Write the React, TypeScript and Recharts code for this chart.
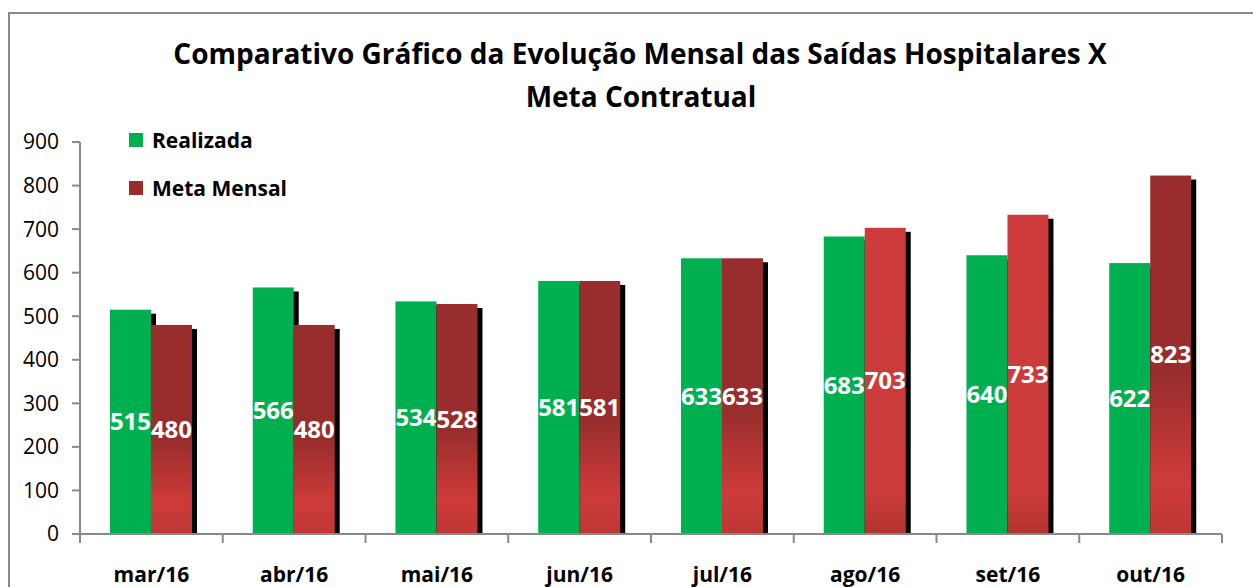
import { BarChart, Bar, XAxis, YAxis, Legend, LabelList, Cell } from "recharts";

const months = ["mar/16", "abr/16", "mai/16", "jun/16", "jul/16", "ago/16", "set/16", "out/16"];
const realizada = [515, 566, 534, 581, 633, 683, 640, 622];
const metaMensal = [480, 480, 528, 581, 633, 703, 733, 823];
const yTicks = [0, 100, 200, 300, 400, 500, 600, 700, 800, 900];

// the Excel gradient came out differently on ago and set
const metaFill = ["metaDark", "metaDark", "metaDark", "metaDark", "metaDark", "metaBright", "metaBright", "metaDark"];

const chartData = months.map((m, i) => ({ month: m, realizada: realizada[i], meta: metaMensal[i] }));

const W = 1253;
const H = 587;
const PLOT_LEFT = 80;
const PLOT_RIGHT = 1222;
const BAND = (PLOT_RIGHT - PLOT_LEFT) / months.length;
const GRAY = "#898989";
const GREEN = "#00B050";
const FONT = "'Open Sans', sans-serif";

// bar with the black drop shadow Excel puts behind it
const ShadowBar = (props: any) => {
  const { x, y, width, height, fill } = props;
  if (!height || height <= 0) return null;
  return (
    <g>
      <rect x={x + 5} y={y + 4} width={width} height={Math.max(0, height - 4)} fill="#000" />
      <rect x={x} y={y} width={width} height={height} fill={fill} />
    </g>
  );
};

const MonthTick = (props: any) => {
  const { x, y, payload, index } = props;
  const half = BAND / 2;
  return (
    <g>
      <line x1={x - half} x2={x - half} y1={y} y2={y + 9} stroke={GRAY} strokeWidth={2} />
      {index === months.length - 1 && (
        <line x1={x + half} x2={x + half} y1={y} y2={y + 9} stroke={GRAY} strokeWidth={2} />
      )}
      <text x={x} y={y + 48} textAnchor="middle" fontFamily={FONT} fontWeight="bold" fontSize={21} fill="#000">
        {payload.value}
      </text>
    </g>
  );
};

const LegendBox = () => (
  <div style={{ fontFamily: FONT, fontWeight: "bold", fontSize: 21, color: "#000" }}>
    <div style={{ display: "flex", alignItems: "center", height: 28 }}>
      <span style={{ width: 14, height: 14, background: GREEN, marginRight: 9 }} />
      Realizada
    </div>
    <div style={{ display: "flex", alignItems: "center", height: 28, marginTop: 20 }}>
      <span style={{ width: 14, height: 14, background: "#992D2D", marginRight: 9 }} />
      Meta Mensal
    </div>
  </div>
);

export default function App() {
  return (
    <div style={{ position: "fixed", left: 0, top: 0, width: W, height: H, overflow: "hidden", background: "#fff" }}>
      <svg width={0} height={0} style={{ position: "absolute" }}>
        <defs>
          <linearGradient id="metaDark" x1="0" y1="0" x2="0" y2="1">
            <stop offset="0" stopColor="#992D2D" />
            <stop offset="0.55" stopColor="#992D2D" />
            <stop offset="0.85" stopColor="#CD3B39" />
            <stop offset="1" stopColor="#BE3735" />
          </linearGradient>
          <linearGradient id="metaBright" x1="0" y1="0" x2="0" y2="1">
            <stop offset="0" stopColor="#CD3C3A" />
            <stop offset="0.88" stopColor="#CA3B39" />
            <stop offset="1" stopColor="#B03331" />
          </linearGradient>
        </defs>
      </svg>
      <div
        style={{
          position: "absolute",
          left: 8,
          top: 12,
          width: 1300,
          height: 700,
          borderLeft: `2px solid ${GRAY}`,
          borderTop: `2px solid ${GRAY}`,
        }}
      />
      <svg width={W} height={130} style={{ position: "absolute", left: 0, top: 0 }}>
        <text x={640} y={64} textAnchor="middle" fontFamily={FONT} fontWeight="bold" fontSize={28} fill="#000">
          Comparativo Gráfico da Evolução Mensal das Saídas Hospitalares X
        </text>
        <text x={641} y={107} textAnchor="middle" fontFamily={FONT} fontWeight="bold" fontSize={28} fill="#000">
          Meta Contratual
        </text>
      </svg>
      <div style={{ position: "absolute", left: 0, top: 0 }}>
        <BarChart
          width={W}
          height={H}
          data={chartData}
          margin={{ top: 142, right: W - PLOT_RIGHT, bottom: 0, left: 20 }}
          barCategoryGap="21%"
          barGap={0}
        >
          <XAxis
            dataKey="month"
            height={53}
            axisLine={{ stroke: GRAY, strokeWidth: 2 }}
            tickLine={false}
            tickSize={0}
            tickMargin={0}
            tick={<MonthTick />}
            interval={0}
          />
          <YAxis
            width={60}
            domain={[0, 900]}
            ticks={yTicks}
            interval={0}
            axisLine={{ stroke: GRAY, strokeWidth: 2 }}
            tickLine={{ stroke: GRAY, strokeWidth: 2 }}
            tickSize={8}
            tickMargin={13}
            tick={{ fontFamily: FONT, fontSize: 21, fill: "#000" }}
          />
          <Legend
            layout="vertical"
            align="center"
            verticalAlign="middle"
            content={<LegendBox />}
            wrapperStyle={{ left: 129, top: 126, width: 220 }}
          />
          <Bar dataKey="realizada" name="Realizada" fill={GREEN} shape={<ShadowBar />} isAnimationActive={false}>
            <LabelList dataKey="realizada" position="center" fill="#fff" fontFamily={FONT} fontWeight="bold" fontSize={24} />
          </Bar>
          <Bar dataKey="meta" name="Meta Mensal" fill="#992D2D" shape={<ShadowBar />} isAnimationActive={false}>
            {metaFill.map((f, i) => (
              <Cell key={i} fill={`url(#${f})`} />
            ))}
            <LabelList dataKey="meta" position="center" fill="#fff" fontFamily={FONT} fontWeight="bold" fontSize={24} />
          </Bar>
        </BarChart>
      </div>
    </div>
  );
}
